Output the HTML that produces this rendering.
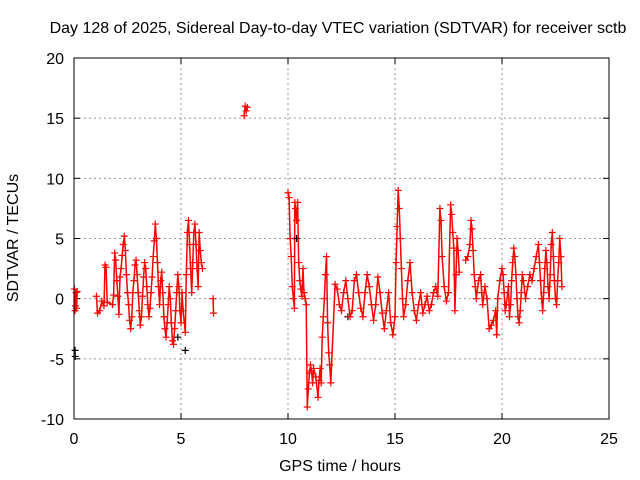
<!DOCTYPE html>
<html><head><meta charset="utf-8"><style>
body{margin:0;background:#fff;}
svg{display:block;font-family:"Liberation Sans",sans-serif;}
</style></head><body>
<svg id="chart" width="640" height="480" viewBox="0 0 640 480">
<text x="338" y="33" font-size="16" text-anchor="middle">Day 128 of 2025, Sidereal Day-to-day VTEC variation (SDTVAR) for receiver sctb</text>
<text x="340" y="471" font-size="16" text-anchor="middle">GPS time / hours</text>
<text transform="translate(18,238) rotate(-90)" font-size="16" text-anchor="middle">SDTVAR / TECUs</text>
<g id="grid"></g>
<g id="ticks"></g>
<g id="marks"></g>
<rect x="74" y="58" width="535" height="361" fill="none" stroke="#000" stroke-width="1"/>
</svg>
<script>
const xTicks=[0,5,10,15,20,25];
const yTicks=[-10,-5,0,5,10,15,20];
const times=[0.02,0.05,0.07,0.1,0.12,0.15,
1.05,1.1,1.2,1.3,1.4,1.45,1.5,1.55,
1.8,1.85,1.9,1.95,2.0,2.05,2.1,2.15,2.2,2.25,2.3,2.35,2.4,2.45,2.5,2.55,2.6,2.65,2.7,2.75,
2.8,2.85,2.9,2.95,3.0,3.05,3.1,3.15,3.2,3.25,3.3,3.35,3.4,3.45,3.5,3.55,3.6,3.65,3.7,3.75,3.8,3.85,3.9,3.95,4.0,
4.05,4.1,4.15,4.2,4.25,4.3,4.35,4.4,4.45,4.5,4.55,4.6,4.65,4.7,4.75,4.8,4.85,4.9,4.95,5.0,5.05,5.1,5.2,5.25,5.3,5.35,5.4,5.45,5.5,5.55,5.6,5.65,5.7,5.75,5.8,5.85,5.9,5.95,6.0,6.5,6.52,
7.95,8.0,8.05,8.1,
10.0,10.05,10.1,10.15,10.2,10.25,10.3,10.32,10.35,10.4,10.45,10.5,10.55,10.6,10.65,10.7,10.75,10.8,10.85,10.9,10.95,11.0,11.05,11.1,11.15,11.2,11.3,11.4,11.45,11.5,11.55,11.6,11.65,11.7,11.75,11.8,11.85,11.9,11.95,12.0,
12.2,12.3,12.4,12.5,12.6,12.7,12.8,12.9,13.0,13.1,13.2,13.3,13.4,13.5,13.6,13.7,13.8,13.9,14.0,14.1,14.2,14.3,14.4,14.5,14.6,14.7,14.8,14.9,15.0,15.05,15.1,15.15,15.2,15.25,15.3,15.35,15.4,15.5,15.6,15.7,15.8,15.9,16.0,16.1,16.2,16.3,16.4,16.5,16.6,16.7,16.8,16.9,17.0,
17.1,17.15,17.2,17.3,17.4,17.5,17.6,17.65,17.7,17.75,17.8,17.85,17.9,17.95,18.0,18.3,18.4,18.5,18.55,18.6,18.65,18.7,18.75,18.8,18.9,19.0,19.05,19.1,19.2,19.3,
19.4,19.5,19.6,19.7,19.75,19.8,19.9,20.0,20.05,20.1,20.15,20.2,20.3,20.35,20.4,20.45,20.5,20.55,20.6,20.65,20.7,20.75,20.8,20.85,20.9,20.95,21.0,21.1,21.2,21.3,21.4,21.5,21.6,21.7,21.75,21.8,21.85,21.9,21.95,22.0,22.05,22.1,22.15,22.2,22.25,22.3,22.35,22.4,22.45,22.5,22.55,22.6,22.65,22.7,22.75,22.8];
const values=[0.8,-1,-0.6,0.5,-0.8,0.6,
0.2,-1.2,-1.0,-0.2,-0.6,2.8,2.6,-0.3,
-0.5,0.3,3.8,3.2,1.5,0.2,-1.3,1.8,2.5,3.6,4.5,5.2,4.0,2.0,0.5,-0.5,-1.8,-2.5,-1.5,0.5,
1.5,2.8,3.2,2.0,0.5,-1.0,-2.2,-1.5,0.2,1.8,3.0,2.5,1.0,-0.5,-1.5,-0.8,0.5,1.8,3.5,4.8,6.2,5.0,3.0,1.0,-0.5,
1.5,2.2,0.5,-1.5,-2.5,-3.2,-2.0,-0.5,1.0,0.0,-2.0,-3.5,-3.8,-2.5,-1.0,0.5,2.0,1.0,-1.0,-2.0,0.5,-1.0,-2.8,2.0,5.5,6.5,4.5,2.5,0.5,3.0,5.5,6.2,4.5,2.5,1.0,5.5,4.0,3.0,2.5,0.0,-1.2,
15.2,16.0,15.6,15.9,
8.8,8.4,5.0,3.5,1.0,0.0,-0.8,8.0,7.5,6.5,8.0,3.0,1.5,0.8,0.2,2.5,0.5,0.0,-0.5,-9.0,-7.5,-6.2,-5.5,-6.0,-7.0,-5.8,-6.5,-8.2,-6.8,-5.8,-7.0,-3.2,-1.5,0.0,2.0,3.5,-2.0,-4.5,-5.5,-7.0,
1.2,0.8,-0.5,-1.0,0.5,1.5,0.0,-1.5,-1.0,1.5,2.0,0.5,-0.8,-1.5,0.5,2.0,1.0,-0.5,-1.8,-0.5,1.8,0.5,-1.2,-2.5,-1.0,0.5,-2.0,-3.0,-1.5,3.0,6.0,9.0,7.5,5.0,2.5,0.0,-1.5,-0.5,1.5,3.0,0.5,-1.0,-1.8,-0.5,0.5,-1.2,-0.5,0.2,-1.0,-0.5,0.5,1.0,0.2,
7.5,6.5,3.5,1.0,-0.2,0.5,7.8,7.0,5.5,4.2,-1.0,2.0,5.0,4.0,2.2,3.2,3.5,4.5,6.5,5.8,4.0,2.0,1.0,0.0,1.5,2.0,0.5,-0.5,1.0,0.0,
-2.5,-2.2,-1.8,-1.0,-3.0,0.0,1.5,2.5,2.0,0.5,-1.0,-0.5,1.0,-1.5,-0.5,1.5,3.0,4.2,3.5,2.0,0.0,-1.5,-2.0,-1.0,0.5,2.0,1.5,0.0,1.0,2.0,1.5,2.5,3.5,4.5,3.0,1.5,0.0,-1.0,0.5,2.5,4.0,3.0,1.0,0.0,2.0,4.5,5.5,3.5,1.5,0.0,-0.5,1.5,3.0,5.0,3.5,1.0];
const blackTimes=[0.05,0.06,5.2,4.85,10.4,12.8];
const blackValues=[-4.3,-4.8,-4.3,-3.2,5.0,-1.5];

const X0=74,X1=609,Y0=419,Y1=58;
function sx(t){return X0+(t-0)/(25-0)*(X1-X0);}
function sy(v){return Y0-(v+10)/(30)*(Y0-Y1);}
const NS='http://www.w3.org/2000/svg';
const grid=document.getElementById('grid'),ticks=document.getElementById('ticks'),marks=document.getElementById('marks');
function mk(tag,attrs,parent){const e=document.createElementNS(NS,tag);for(const k in attrs)e.setAttribute(k,attrs[k]);parent.appendChild(e);return e;}
xTicks.forEach(t=>{
  const x=sx(t);
  if(t>0&&t<25){const g=mk('line',{x1:x,x2:x,y1:Y1,y2:Y0,stroke:'#999','stroke-dasharray':'2,3'},grid);
  
  }
  mk('line',{x1:x,x2:x,y1:Y0,y2:Y0-6,stroke:'#000'},ticks);
  mk('line',{x1:x,x2:x,y1:Y1,y2:Y1+6,stroke:'#000'},ticks);
  const l=mk('text',{x:x,y:Y0+25,'font-size':16,'text-anchor':'middle'},ticks);l.textContent=t;
  
  
});
yTicks.forEach(v=>{
  const y=sy(v);
  if(v>-10&&v<20){const g=mk('line',{x1:X0,x2:X1,y1:y,y2:y,stroke:'#999','stroke-dasharray':'2,3'},grid);
  
  }
  mk('line',{x1:X0,x2:X0+6,y1:y,y2:y,stroke:'#000'},ticks);
  mk('line',{x1:X1,x2:X1-6,y1:y,y2:y,stroke:'#000'},ticks);
  const l=mk('text',{x:X0-10,y:y+6,'font-size':16,'text-anchor':'end'},ticks);l.textContent=v;
  
  
});
let d='';
for(let i=0;i<times.length;i++){
  const x=sx(times[i]),y=sy(values[i]);
  d+=(i>0&&Math.abs(times[i]-times[i-1])<0.3?'L':'M')+x.toFixed(1)+' '+y.toFixed(1);
}
const smear=mk('path',{d:d,stroke:'#f00','stroke-width':1.5,fill:'none'},marks);


function plus(x,y,c,name){
  const p=mk('path',{d:`M${x-3.5} ${y}h7M${x} ${y-3.5}v7`,stroke:c,'stroke-width':1.2},marks);
  
  
}
blackTimes.forEach((t,i)=>plus(sx(t),sy(blackValues[i]),'#000','black-point'));
times.forEach((t,i)=>plus(sx(t),sy(values[i]),'#f00','sdtvar-point'));
</script>
</body></html>
